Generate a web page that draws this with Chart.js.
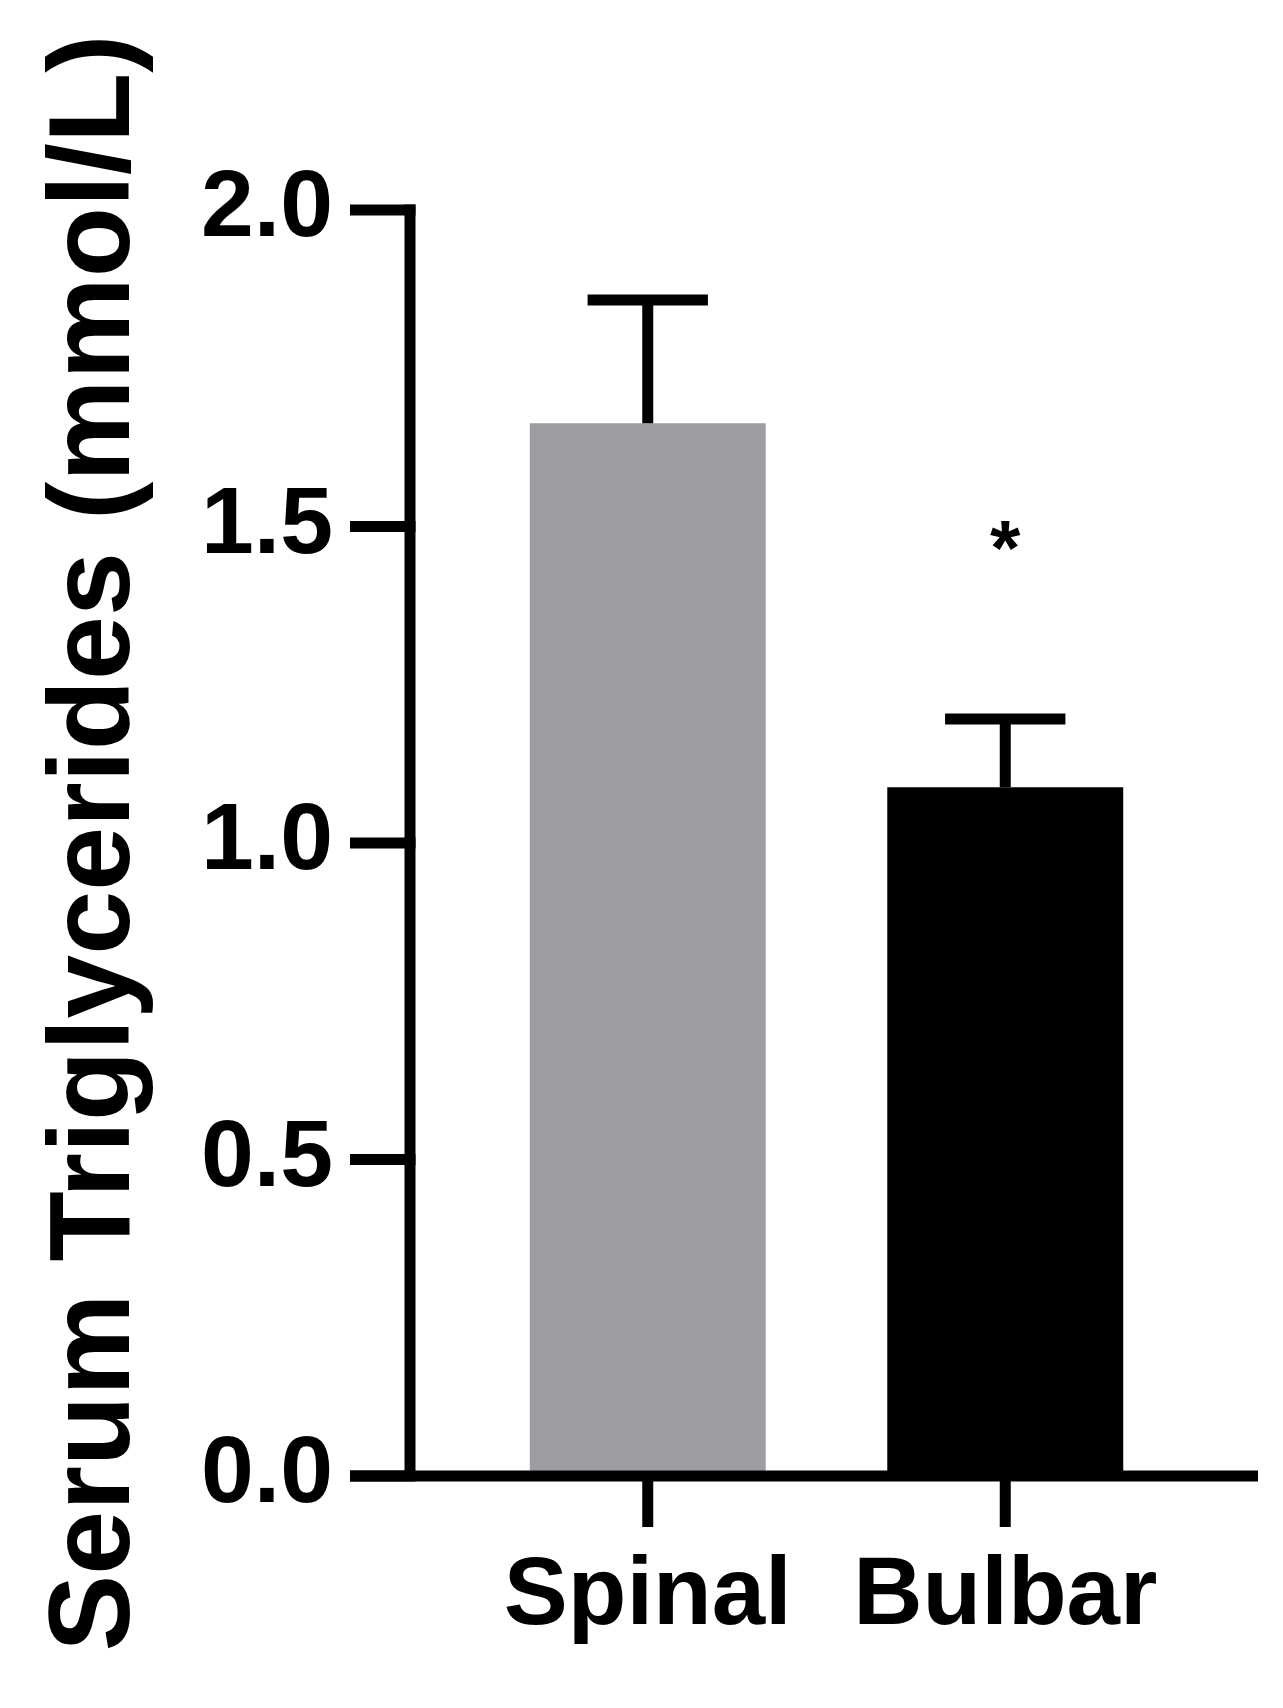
<!DOCTYPE html>
<html>
<head>
<meta charset="utf-8">
<script src="https://cdn.jsdelivr.net/npm/chart.js@4"></script>
<style>
    html, body { margin: 0; padding: 0; background: #ffffff; }
    canvas { display: block; }
</style>
</head>
<body>
<canvas id="tgChart" width="1283" height="1708"></canvas>
<script>
// Data
const groups = ['Spinal', 'Bulbar'];
const meanTG = [1.663, 1.088];
const semTG = [0.195, 0.108];
const sigMarks = ['', '*'];
const yTicks = [0, 0.5, 1.0, 1.5, 2.0];

const FONT = "'Liberation Sans', Arial, sans-serif";
const LINE_W = 11;
const AXIS_GAP = 59;    // y axis line sits left of the first category
const TICK_LEN = 60;

// draws the prism-style axes, error bars and significance marks
const prismPlugin = {
    id: 'prism',
    afterDatasetsDraw(chart) {
        const ctx = chart.ctx;
        const xs = chart.scales.x;
        const ys = chart.scales.y;
        const area = chart.chartArea;
        const meta = chart.getDatasetMeta(0);
        const y0 = ys.getPixelForValue(0);
        const yTop = ys.getPixelForValue(yTicks[yTicks.length - 1]);
        const axisX = area.left - AXIS_GAP;

        ctx.save();
        ctx.strokeStyle = '#000';
        ctx.fillStyle = '#000';
        ctx.lineWidth = LINE_W;
        ctx.lineCap = 'butt';

        // error bars (upper only)
        meta.data.forEach((bar, i) => {
            const yMean = ys.getPixelForValue(meanTG[i]);
            const yErr = ys.getPixelForValue(meanTG[i] + semTG[i]);
            const half = bar.width * 0.255;
            ctx.beginPath();
            ctx.moveTo(bar.x, yMean);
            ctx.lineTo(bar.x, yErr);
            ctx.stroke();
            ctx.beginPath();
            ctx.moveTo(bar.x - half, yErr);
            ctx.lineTo(bar.x + half, yErr);
            ctx.stroke();

            if (sigMarks[i]) {
                ctx.font = 'bold 78px ' + FONT;
                ctx.textAlign = 'center';
                ctx.textBaseline = 'middle';
                ctx.fillText(sigMarks[i], bar.x, yErr - 165);
            }
        });

        // y axis
        ctx.beginPath();
        ctx.moveTo(axisX, yTop - LINE_W / 2);
        ctx.lineTo(axisX, y0);
        ctx.stroke();
        ys.ticks.forEach(t => {
            const py = ys.getPixelForValue(t.value);
            ctx.beginPath();
            ctx.moveTo(axisX - TICK_LEN, py);
            ctx.lineTo(axisX + LINE_W / 2, py);
            ctx.stroke();
        });

        // x axis
        ctx.beginPath();
        ctx.moveTo(axisX - TICK_LEN, y0);
        ctx.lineTo(1258, y0);
        ctx.stroke();
        groups.forEach((g, i) => {
            const px = xs.getPixelForValue(i);
            ctx.beginPath();
            ctx.moveTo(px, y0);
            ctx.lineTo(px, y0 + 51);
            ctx.stroke();
        });
        ctx.restore();
    }
};

new Chart(document.getElementById('tgChart'), {
    type: 'bar',
    data: {
        labels: groups,
        datasets: [{
            data: meanTG,
            backgroundColor: ['#9d9da1', '#000000'],
            borderWidth: 0,
            barPercentage: 0.66,
            categoryPercentage: 1.0
        }]
    },
    options: {
        responsive: false,
        animation: false,
        events: [],
        layout: {
            padding: { top: 210, right: 99, bottom: 0, left: 0 }
        },
        plugins: {
            legend: { display: false },
            tooltip: { enabled: false }
        },
        scales: {
            x: {
                grid: { display: false, drawTicks: false },
                border: { display: false },
                ticks: {
                    color: '#000',
                    padding: 64,
                    maxRotation: 0,
                    font: { family: FONT, size: 96, weight: 'bold' }
                },
                afterFit(scale) { scale.height = 232; }
            },
            y: {
                min: 0,
                max: 2,
                grid: { display: false, drawTicks: false },
                border: { display: false },
                afterBuildTicks(scale) {
                    scale.ticks = yTicks.map(v => ({ value: v }));
                },
                ticks: {
                    color: '#000',
                    padding: 136,
                    font: { family: FONT, size: 95, weight: 'bold' },
                    callback: v => Number(v).toFixed(1)
                },
                title: {
                    display: true,
                    text: 'Serum Triglycerides (mmol/L)',
                    color: '#000',
                    padding: { top: 40, bottom: 0 },
                    font: { family: FONT, size: 115, weight: 'bold', lineHeight: 1 }
                },
                afterFit(scale) { scale.width = 469; }
            }
        }
    },
    plugins: [prismPlugin]
});
</script>
</body>
</html>
